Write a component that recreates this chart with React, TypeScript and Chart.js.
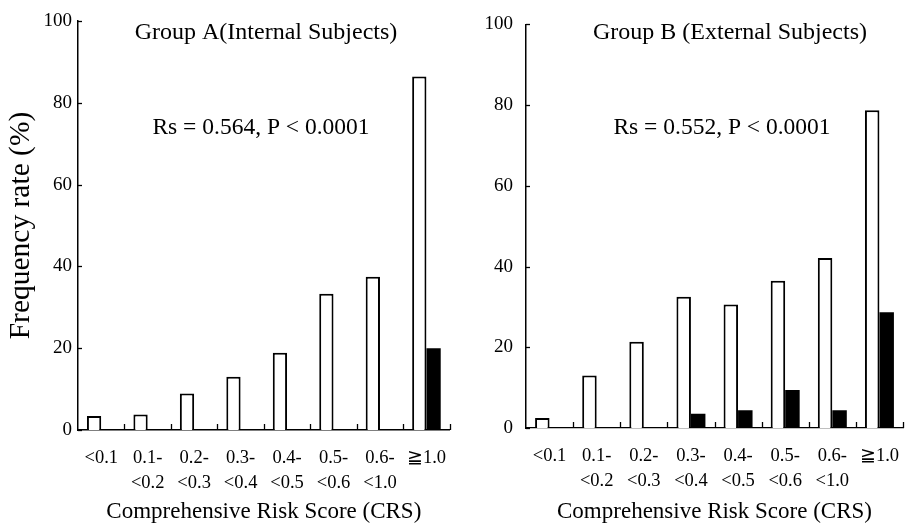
import React, { useEffect, useRef } from "react";
import { Chart, registerables } from "chart.js";

Chart.register(...registerables);

// ---------- data ----------
const categories: string[][] = [
  ["<0.1"],
  ["0.1-", "<0.2"],
  ["0.2-", "<0.3"],
  ["0.3-", "<0.4"],
  ["0.4-", "<0.5"],
  ["0.5-", "<0.6"],
  ["0.6-", "<1.0"],
  ["≧1.0"],
];
const groupAOpen = [3.4, 3.8, 8.9, 13.0, 18.9, 33.3, 37.5, 86.4];
const groupAFilled = [0, 0, 0, 0, 0, 0, 0, 20.0];
const groupBOpen = [2.5, 13.0, 21.4, 32.5, 30.6, 36.5, 42.1, 78.7];
const groupBFilled = [0, 0, 0, 3.5, 4.4, 9.4, 4.4, 28.7];
const yMin = 0;
const yMax = 100;
const yStep = 20;

const titleA = "Group A(Internal Subjects)";
const titleB = "Group B (External Subjects)";
const statA = "Rs = 0.564, P < 0.0001";
const statB = "Rs = 0.552, P < 0.0001";
const xTitle = "Comprehensive Risk Score (CRS)";
const yTitle = "Frequency rate (%)";

const FAMILY = "'Liberation Serif', 'Times New Roman', 'DejaVu Serif', serif";

const annotPlugin = {
  id: "annot",
  afterDraw(chart: any, _args: any, opts: any) {
    const { ctx, chartArea, scales } = chart;
    const x = scales.x;
    const y = scales.y;
    ctx.save();
    ctx.strokeStyle = "#000";
    ctx.lineWidth = 1.3;
    const n = chart.data.labels.length;
    const cw = (x.right - x.left) / n;
    for (let i = 0; i < n; i++) {
      const px = Math.round(x.getPixelForValue(i) + cw / 2) + 0.5;
      ctx.beginPath();
      ctx.moveTo(px, chartArea.bottom);
      ctx.lineTo(px, chartArea.bottom - 6);
      ctx.stroke();
    }
    for (const t of y.ticks) {
      const py = Math.round(y.getPixelForValue(t.value)) + 0.5;
      ctx.beginPath();
      ctx.moveTo(chartArea.left, py);
      ctx.lineTo(chartArea.left + 4, py);
      ctx.stroke();
    }
    ctx.fillStyle = "#000";
    ctx.textAlign = "center";
    ctx.textBaseline = "alphabetic";
    ctx.font = `${opts.titleSize}px ${FAMILY}`;
    ctx.fillText(opts.title, chartArea.left + opts.titleX, opts.titleY);
    ctx.font = `${opts.statSize}px ${FAMILY}`;
    ctx.fillText(opts.stat, chartArea.left + opts.statX, opts.statY);
    ctx.restore();
  },
};

function makeConfig(p: any): any {
  return {
    type: "bar",
    data: {
      labels: categories,
      datasets: [
        {
          label: "Open",
          data: p.open,
          backgroundColor: "#fff",
          borderColor: "#000",
          borderWidth: 2,
          borderSkipped: "bottom",
          categoryPercentage: 0.615,
          barPercentage: 1,
        },
        {
          label: "Filled",
          data: p.filled,
          backgroundColor: "#000",
          borderColor: "#000",
          borderWidth: 0,
          categoryPercentage: 0.615,
          barPercentage: 1,
        },
      ],
    },
    options: {
      responsive: false,
      animation: false,
      devicePixelRatio: 1,
      layout: { padding: { top: p.padTop, right: 0, bottom: 0, left: 0 } },
      plugins: {
        legend: { display: false },
        tooltip: { enabled: false },
        title: { display: false },
        annot: {
          title: p.title,
          titleX: p.titleX,
          titleY: p.titleY,
          titleSize: 24,
          stat: p.stat,
          statX: p.statX,
          statY: p.statY,
          statSize: 23.5,
        },
      },
      scales: {
        x: {
          grid: { display: false, drawTicks: false },
          border: { display: true, color: "#000", width: p.xBorder },
          ticks: {
            color: "#000",
            font: { family: FAMILY, size: 18.5, lineHeight: 25 / 18.5 },
            padding: 16,
            maxRotation: 0,
            minRotation: 0,
            autoSkip: false,
          },
          title: {
            display: true,
            text: xTitle,
            color: "#000",
            font: { family: FAMILY, size: 23 },
            padding: { top: 0, bottom: 0 },
          },
          afterFit: (s: any) => {
            s.height = p.xHeight;
          },
        },
        y: {
          min: yMin,
          max: yMax,
          grid: { display: false, drawTicks: false },
          border: { display: true, color: "#000", width: 1.5 },
          ticks: {
            stepSize: yStep,
            color: "#000",
            font: { family: FAMILY, size: 19 },
            padding: p.yPad,
          },
          title: {
            display: p.showYTitle,
            text: yTitle,
            color: "#000",
            font: { family: FAMILY, size: 29.5 },
            padding: { top: 4, bottom: 0 },
          },
          afterFit: (s: any) => {
            s.width = p.yWidth;
          },
        },
      },
    },
    plugins: [annotPlugin],
  };
}

function Panel(props: { cfg: any; left: number; width: number }) {
  const ref = useRef<HTMLCanvasElement | null>(null);
  useEffect(() => {
    if (!ref.current) return;
    const chart = new Chart(ref.current, makeConfig(props.cfg));
    return () => chart.destroy();
  }, []);
  return (
    <canvas
      ref={ref}
      width={props.width}
      height={526}
      style={{ position: "absolute", left: props.left, top: 0, width: props.width, height: 526 }}
    />
  );
}

export default function App() {
  const cfgA = {
    open: groupAOpen,
    filled: groupAFilled,
    title: titleA,
    stat: statA,
    titleX: 188,
    titleY: 39,
    statX: 183,
    statY: 134,
    padTop: 21,
    xHeight: 96,
    yWidth: 78,
    yPad: 6,
    showYTitle: true,
    xBorder: 1.6,
  };
  const cfgB = {
    open: groupBOpen,
    filled: groupBFilled,
    title: titleB,
    stat: statB,
    titleX: 204,
    titleY: 39,
    statX: 196,
    statY: 134,
    padTop: 21,
    xHeight: 98,
    yWidth: 66,
    yPad: 13,
    showYTitle: false,
    xBorder: 1.2,
  };
  return (
    <div
      style={{
        position: "fixed",
        left: 0,
        top: 0,
        width: 909,
        height: 526,
        overflow: "hidden",
        background: "#fff",
      }}
    >
      <Panel cfg={cfgA} left={0} width={462} />
      <Panel cfg={cfgB} left={460} width={455} />
    </div>
  );
}
